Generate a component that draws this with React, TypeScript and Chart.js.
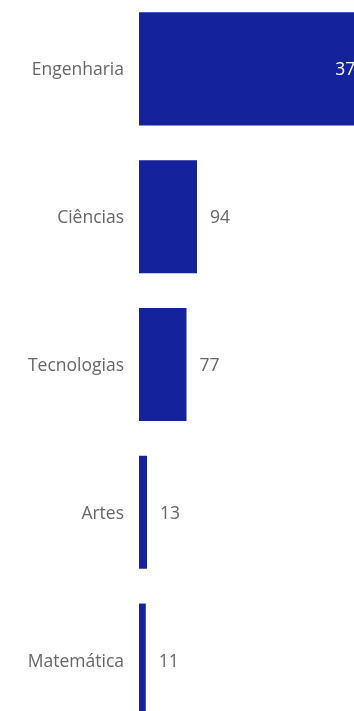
import React, { useEffect, useRef } from "react";
import { Chart, registerables } from "chart.js";

Chart.register(...registerables);

const categories = ["Engenharia", "Ciências", "Tecnologias", "Artes", "Matemática"];
const values = [378, 94, 77, 13, 11];

const BAR_COLOR = "#14229b";
const TEXT_COLOR = "#666666";
const FONT_FAMILY = "'Open Sans', 'Noto Sans', sans-serif";
const FONT_SIZE = 17.5;

const valueLabels = {
  id: "valueLabels",
  afterDatasetsDraw(chart: any) {
    const ctx = chart.ctx;
    const meta = chart.getDatasetMeta(0);
    ctx.save();
    ctx.font = `${FONT_SIZE}px ${FONT_FAMILY}`;
    ctx.textBaseline = "middle";
    meta.data.forEach((bar: any, i: number) => {
      const text = String(values[i]);
      const barLen = bar.x - bar.base;
      if (barLen > 150) {
        ctx.fillStyle = "#ffffff";
        ctx.textAlign = "right";
        ctx.fillText(text, bar.x - 7, bar.y + 1.5);
      } else {
        ctx.fillStyle = TEXT_COLOR;
        ctx.textAlign = "left";
        ctx.fillText(text, bar.x + 13, bar.y + 1.5);
      }
    });
    ctx.restore();
  },
};

export default function App() {
  const ref = useRef<HTMLCanvasElement>(null);
  useEffect(() => {
    if (!ref.current) return;
    const chart = new Chart(ref.current, {
      type: "bar",
      data: {
        labels: categories,
        datasets: [
          {
            data: values,
            backgroundColor: BAR_COLOR,
            borderWidth: 0,
            barPercentage: 0.765,
            categoryPercentage: 1,
          },
        ],
      },
      options: {
        indexAxis: "y",
        animation: false,
        responsive: false,
        maintainAspectRatio: false,
        events: [],
        layout: { padding: 0 },
        plugins: {
          legend: { display: false },
          tooltip: { enabled: false },
        },
        scales: {
          x: {
            display: false,
            min: 0,
            max: 423,
          },
          y: {
            grid: { display: false, drawTicks: false },
            border: { display: false },
            ticks: {
              color: TEXT_COLOR,
              padding: 15,
              labelOffset: 1.5,
              font: { family: FONT_FAMILY, size: FONT_SIZE },
            },
            afterFit(scale: any) {
              scale.width = 139;
              scale.paddingTop = 0;
              scale.paddingBottom = 0;
            },
          },
        },
      },
      plugins: [valueLabels],
    });
    return () => chart.destroy();
  }, []);

  return (
    <div
      style={{
        position: "fixed",
        left: 0,
        top: 0,
        width: 354,
        height: 711,
        overflow: "hidden",
        background: "#ffffff",
      }}
    >
      <canvas
        ref={ref}
        width={400}
        height={739}
        style={{ position: "absolute", left: 0, top: -5, width: 400, height: 739 }}
      />
    </div>
  );
}
